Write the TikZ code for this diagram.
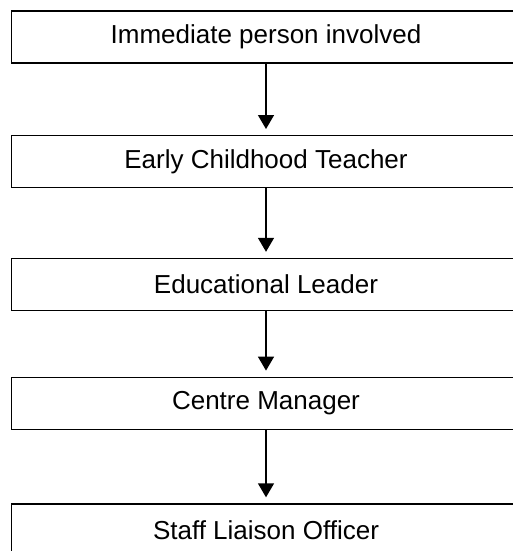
\documentclass[tikz,border=0pt]{standalone}
\usepackage{fontspec}
\setmainfont{Liberation Sans}
\usetikzlibrary{arrows.meta}
\begin{document}
\begin{tikzpicture}[x=1pt,y=1pt,
  stagebox/.style={draw=black, line width=1.4pt, fill=white,
    minimum width=509pt, minimum height=52pt, inner sep=0pt,
    font=\fontsize{26}{30}\selectfont},
  flow/.style={draw=black, line width=1.5pt, shorten >=6pt,
    -{Triangle[length=14pt,width=16pt]}}]
  \useasboundingbox (0,0) rectangle (512,-551);
  \node[stagebox] (s1) at (266,-37)    {Immediate person involved};
  \node[stagebox] (s2) at (266,-161.7) {Early Childhood Teacher};
  \node[stagebox] (s3) at (266,-284.5) {Educational Leader};
  \node[stagebox] (s4) at (266,-403.3) {Centre Manager};
  \node[stagebox] (s5) at (266,-530)   {Staff Liaison Officer};
  \draw[flow] (s1.south) -- (s2.north);
  \draw[flow] (s2.south) -- (s3.north);
  \draw[flow] (s3.south) -- (s4.north);
  \draw[flow] (s4.south) -- (s5.north);
\end{tikzpicture}
\end{document}
